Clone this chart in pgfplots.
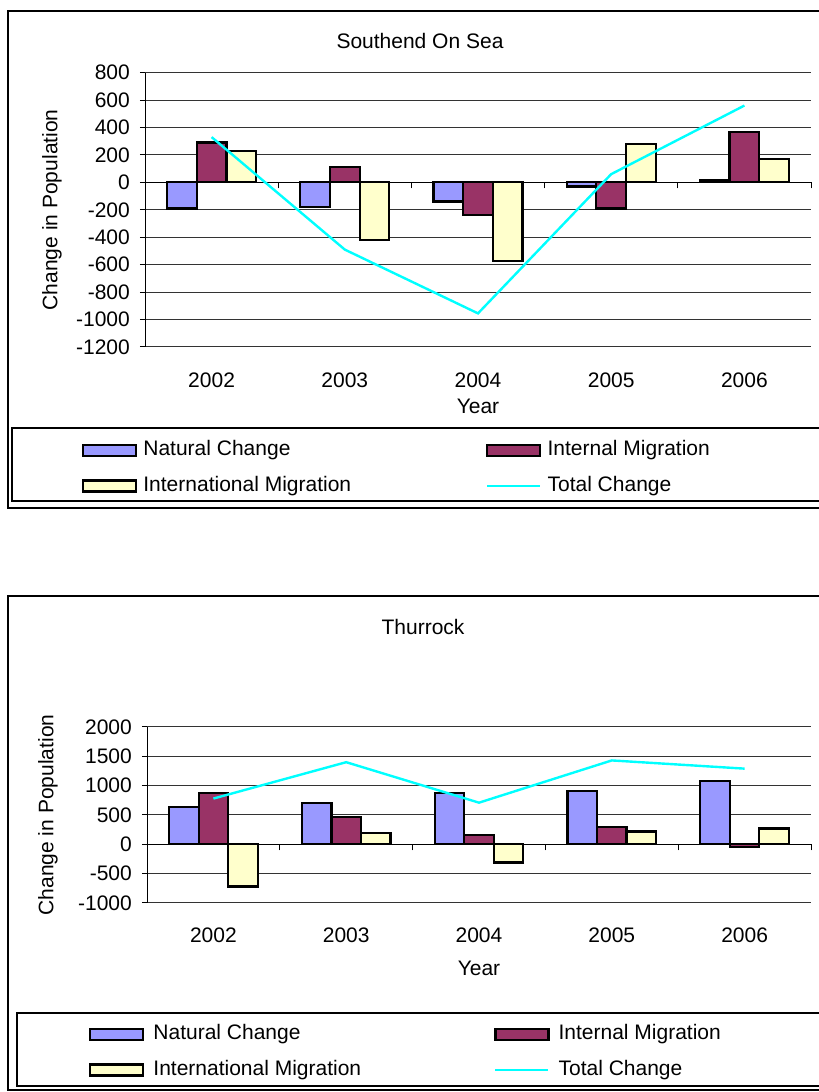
\documentclass[border=0pt]{standalone}
\usepackage{pgfplots}
\pgfplotsset{compat=1.18}
\usepackage{fontspec}
\setmainfont{Liberation Sans}
\definecolor{natc}{HTML}{9999FF}
\definecolor{intm}{HTML}{993366}
\definecolor{intl}{HTML}{FFFFCC}
\definecolor{totc}{HTML}{00FFFF}
\pgfplotsset{
  barleg/.style={legend image code/.code={\draw[##1,/tikz/.cd,line width=2.2pt] (0pt,-5.5pt) rectangle (53pt,5.5pt);}},
  lineleg/.style={legend image code/.code={\draw[##1] (0pt,0pt) -- (53pt,0pt);}},
  chart/.style={
    axis x line=middle, axis y line=left,
    axis line style={black, line width=1pt, -},
    every inner x axis line/.append style={-},
    every outer y axis line/.append style={-},
    xmin=-0.5, xmax=4.5,
    xtick={0,1,2,3,4},
    xticklabels={2002,2003,2004,2005,2006},
    minor xtick={-0.5,0.5,1.5,2.5,3.5,4.5},
    major x tick style={draw=none},
    tick align=outside,
    major tick length=5pt, minor tick length=6pt,
    tick style={black, line width=1pt},
    ymajorgrids, grid style={black!80, line width=1pt},
    /pgf/number format/assume math mode=true,
    /pgf/number format/1000 sep={},
    yticklabel style={anchor=east, inner sep=0pt, xshift=-10pt},
    legend columns=2,
    legend cell align=left,
    clip=false,
  },
  bar/.style={ybar, bar width=29.7pt, draw=black, line width=2.2pt, barleg},
}
\begin{document}
\fontsize{21}{25}\selectfont
\begin{tikzpicture}
\useasboundingbox (0,0) rectangle (819pt,1092pt);
% frames
\draw[black, line width=1.2pt] (8pt,1081pt) rectangle (850pt,584pt);
\draw[black, line width=1.2pt] (12pt,664pt) rectangle (850pt,591pt);
\draw[black, line width=1.2pt] (8pt,496pt) rectangle (850pt,2pt);
\draw[black, line width=1.2pt] (17pt,79pt) rectangle (850pt,6pt);

\begin{axis}[chart,
  at={(145pt,745pt)}, anchor=south west,
  x=133.2pt, y=0.13717pt,
  ymin=-1200, ymax=800,
  ytick={-1200,-1000,...,800},
  title={Southend On Sea},
  title style={at={(axis description cs:0.4129,1.093)}, anchor=center, inner sep=0pt},
  ylabel={Change in Population},
  ylabel style={at={(axis description cs:-0.1396,0.5)}, anchor=center},
  xlabel={Year},
  xlabel style={at={(axis description cs:0.5,-0.215)}, anchor=center},
  xticklabel style={anchor=center, yshift=-192.8pt},
  legend style={draw=none, fill=none, inner sep=0pt,
    at={(axis description cs:-0.0946,-0.3407)}, anchor=north west,
    nodes={inner sep=0pt, text height=15pt, text depth=4.5pt},
    row sep=16pt,
    /tikz/every odd column/.append style={column sep=6pt},
    /tikz/every even column/.append style={column sep=135pt}},
]
\addplot[bar, bar shift=-29.7pt, fill=natc] coordinates {(0,-190) (1,-180) (2,-140) (3,-30) (4,20)};
\addlegendentry{Natural Change}
\addplot[bar, bar shift=0pt, fill=intm] coordinates {(0,290) (1,110) (2,-240) (3,-190) (4,370)};
\addlegendentry{Internal Migration}
\addplot[bar, bar shift=29.7pt, fill=intl] coordinates {(0,230) (1,-420) (2,-575) (3,280) (4,170)};
\addlegendentry{International Migration}
\addplot[totc, line width=2.4pt, sharp plot, mark=none, lineleg] coordinates {(0,330) (1,-490) (2,-955) (3,60) (4,560)};
\addlegendentry{Total Change}
\end{axis}

\begin{axis}[chart,
  at={(147pt,189pt)}, anchor=south west,
  x=132.8pt, y=0.05867pt,
  ymin=-1000, ymax=2000,
  ytick={-1000,-500,...,2000},
  title={Thurrock},
  title style={at={(axis description cs:0.4157,1.534)}, anchor=center, inner sep=0pt},
  ylabel={Change in Population},
  ylabel style={at={(axis description cs:-0.149,0.5)}, anchor=center},
  xlabel={Year},
  xlabel style={at={(axis description cs:0.5,-0.369)}, anchor=center},
  xticklabel style={anchor=center, yshift=-86pt},
  legend style={draw=none, fill=none, inner sep=0pt,
    at={(axis description cs:-0.0873,-0.6903)}, anchor=north west,
    nodes={inner sep=0pt, text height=15pt, text depth=4.5pt},
    row sep=16pt,
    /tikz/every odd column/.append style={column sep=9pt},
    /tikz/every even column/.append style={column sep=133pt}},
]
\addplot[bar, bar shift=-29.5pt, bar width=29.5pt, fill=natc] coordinates {(0,640) (1,700) (2,880) (3,910) (4,1080)};
\addlegendentry{Natural Change}
\addplot[bar, bar shift=0pt, bar width=29.5pt, fill=intm] coordinates {(0,880) (1,460) (2,160) (3,300) (4,-40)};
\addlegendentry{Internal Migration}
\addplot[bar, bar shift=29.5pt, bar width=29.5pt, fill=intl] coordinates {(0,-720) (1,190) (2,-310) (3,220) (4,270)};
\addlegendentry{International Migration}
\addplot[totc, line width=2.4pt, sharp plot, mark=none, lineleg] coordinates {(0,780) (1,1400) (2,710) (3,1430) (4,1290)};
\addlegendentry{Total Change}
\end{axis}
\end{tikzpicture}
\end{document}
